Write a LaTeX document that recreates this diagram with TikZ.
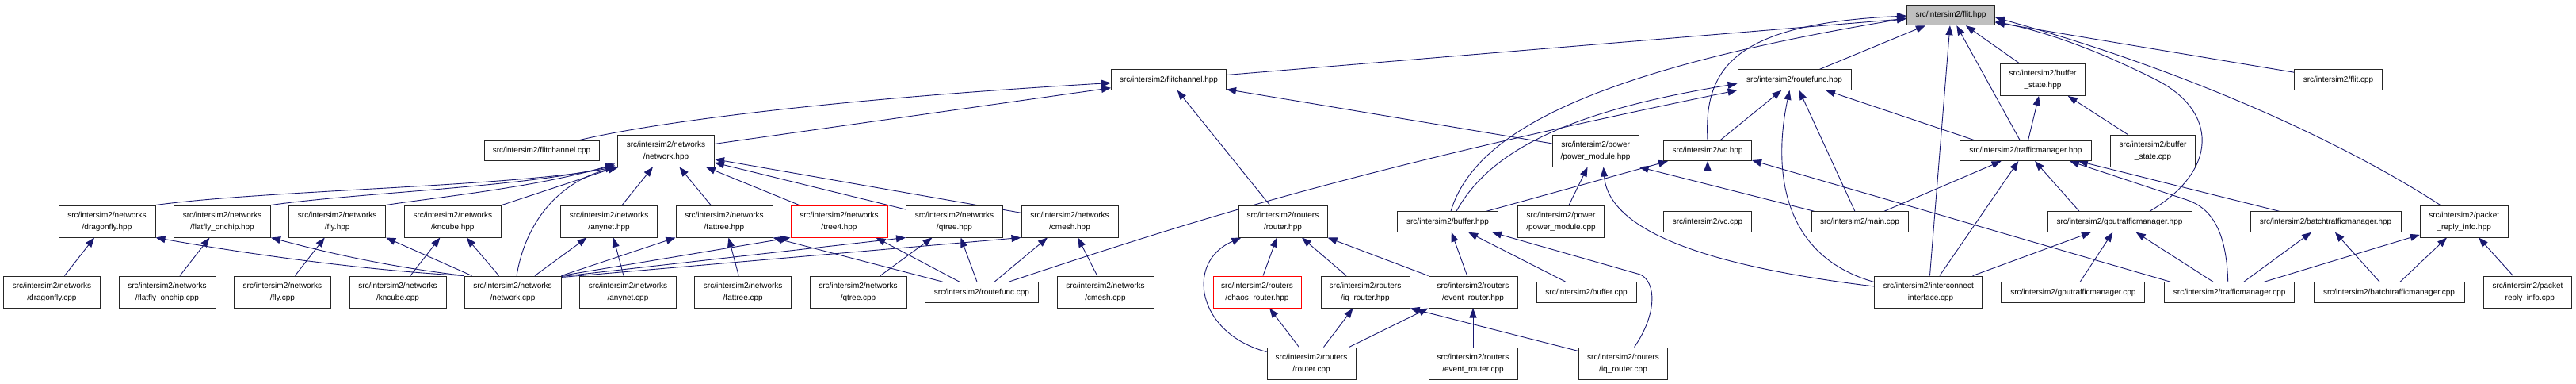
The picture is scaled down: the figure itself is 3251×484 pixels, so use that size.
\documentclass[tikz,border=0pt]{standalone}
\usepackage{fontspec}
\setmainfont{Liberation Sans}
\usetikzlibrary{arrows.meta,calc}
\definecolor{edgec}{RGB}{25,25,112}
\definecolor{flitfill}{RGB}{191,191,191}
\pgfdeclarelayer{bg}
\pgfsetlayers{bg,main}
\tikzset{
  box/.style={draw=black!85, line width=1pt, fill=white, inner sep=0pt, align=center,
    font=\fontsize{10}{15}\selectfont, text=black},
  boxa/.style={box, minimum height=25.5pt, minimum width=#1pt},
  boxb/.style={box, minimum height=40pt, minimum width=#1pt},
  edg/.style={draw=edgec, line width=0.9pt, -{Triangle[length=12pt,width=9pt]}}
}
\begin{document}
\begin{tikzpicture}[x=1pt,y=-1pt]
\useasboundingbox (0,0) rectangle (3251,484);
% rank 0
\node[boxa=111, fill=flitfill] (flit) at (2462,19) {src/intersim2/flit.hpp};
% rank 1
\node[boxa=145] (fch) at (1475,100.5) {src/intersim2/flitchannel.hpp};
\node[boxa=143] (rfh) at (2264.5,100.5) {src/intersim2/routefunc.hpp};
\node[boxb=107] (bsh) at (2578,100.5) {src/intersim2/buffer\\\_state.hpp};
\node[boxa=111] (flitcpp) at (2951,100.5) {src/intersim2/flit.cpp};
% rank 2
\node[boxa=145] (fcc) at (683.5,189.8) {src/intersim2/flitchannel.cpp};
\node[boxb=122] (neth) at (840.5,190) {src/intersim2/networks\\/network.hpp};
\node[boxb=109] (pwh) at (2013.6,190) {src/intersim2/power\\/power\_module.hpp};
\node[boxa=111] (vch) at (2155,189.8) {src/intersim2/vc.hpp};
\node[boxa=166] (tmh) at (2556.4,189.8) {src/intersim2/trafficmanager.hpp};
\node[boxb=107] (bsc) at (2717,190) {src/intersim2/buffer\\\_state.cpp};
% rank 3
\node[boxb=122] (dfh) at (135,279) {src/intersim2/networks\\/dragonfly.hpp};
\node[boxb=122] (ffh) at (280.5,279) {src/intersim2/networks\\/flatfly\_onchip.hpp};
\node[boxb=122] (flyh) at (425.7,279) {src/intersim2/networks\\/fly.hpp};
\node[boxb=122] (kch) at (571.3,279) {src/intersim2/networks\\/kncube.hpp};
\node[boxb=122] (anh) at (768.6,279) {src/intersim2/networks\\/anynet.hpp};
\node[boxb=122] (fth) at (914,279) {src/intersim2/networks\\/fattree.hpp};
\node[boxb=122, draw=red] (t4h) at (1059,279) {src/intersim2/networks\\/tree4.hpp};
\node[boxb=122] (qth) at (1204.5,279) {src/intersim2/networks\\/qtree.hpp};
\node[boxb=122] (cmh) at (1350,279) {src/intersim2/networks\\/cmesh.hpp};
\node[boxb=112] (rth) at (1619,279) {src/intersim2/routers\\/router.hpp};
\node[boxa=127] (bufh) at (1827,279.5) {src/intersim2/buffer.hpp};
\node[boxb=109] (pwc) at (1970,279) {src/intersim2/power\\/power\_module.cpp};
\node[boxa=111] (vcc) at (2155,279.5) {src/intersim2/vc.cpp};
\node[boxa=122] (mainc) at (2347,279.5) {src/intersim2/main.cpp};
\node[boxa=182] (gtmh) at (2675,279.5) {src/intersim2/gputrafficmanager.hpp};
\node[boxa=190] (btmh) at (2935,279.5) {src/intersim2/batchtrafficmanager.hpp};
\node[boxb=111] (prih) at (3109.7,279) {src/intersim2/packet\\\_reply\_info.hpp};
% rank 4
\node[boxb=122] (dfc) at (65.5,368) {src/intersim2/networks\\/dragonfly.cpp};
\node[boxb=122] (ffc) at (211,368) {src/intersim2/networks\\/flatfly\_onchip.cpp};
\node[boxb=122] (flyc) at (356.4,368) {src/intersim2/networks\\/fly.cpp};
\node[boxb=122] (kcc) at (502,368) {src/intersim2/networks\\/kncube.cpp};
\node[boxb=122] (netc) at (647,368) {src/intersim2/networks\\/network.cpp};
\node[boxb=122] (anc) at (792.5,368) {src/intersim2/networks\\/anynet.cpp};
\node[boxb=122] (ftc) at (937.7,368) {src/intersim2/networks\\/fattree.cpp};
\node[boxb=122] (qtc) at (1083,368) {src/intersim2/networks\\/qtree.cpp};
\node[boxa=143] (rfc) at (1239,368.5) {src/intersim2/routefunc.cpp};
\node[boxb=122] (cmc) at (1395,368) {src/intersim2/networks\\/cmesh.cpp};
\node[boxb=111, draw=red] (chh) at (1586.5,368) {src/intersim2/routers\\/chaos\_router.hpp};
\node[boxb=112] (iqh) at (1723,368) {src/intersim2/routers\\/iq\_router.hpp};
\node[boxb=112] (evh) at (1859,368) {src/intersim2/routers\\/event\_router.hpp};
\node[boxa=126] (bufc) at (2002,368.5) {src/intersim2/buffer.cpp};
\node[boxb=136] (icc) at (2433.8,368) {src/intersim2/interconnect\\\_interface.cpp};
\node[boxa=181] (gtmc) at (2616.4,368.5) {src/intersim2/gputrafficmanager.cpp};
\node[boxa=164] (tmc) at (2813.7,368.5) {src/intersim2/trafficmanager.cpp};
\node[boxa=190] (btmc) at (3015,368.5) {src/intersim2/batchtrafficmanager.cpp};
\node[boxb=111] (pric) at (3190,368) {src/intersim2/packet\\\_reply\_info.cpp};
% rank 5
\node[boxb=112] (rtc) at (1655,458) {src/intersim2/routers\\/router.cpp};
\node[boxb=112] (evc) at (1859,458) {src/intersim2/routers\\/event\_router.cpp};
\node[boxb=112] (iqc) at (2048.5,458) {src/intersim2/routers\\/iq\_router.cpp};

\begin{pgfonlayer}{bg}
% into flit.hpp
\draw[edg] (fch) -- (flit);
\draw[edg] (rfh) -- (flit);
\draw[edg] (icc) -- (flit);
\draw[edg] (tmh) -- (flit);
\draw[edg] (bsh) -- (flit);
\draw[edg] (flitcpp) -- (flit);
\draw[edg] ($(prih.north)+(-30,0)$) .. controls (2990,200) and (2800,100) .. ($(flit.east)+(0,3)$);
\draw[edg] ($(gtmh.north)+(38,0)$) .. controls (2800,215) and (2800,140) .. (2720,100) .. controls (2640,60) and (2580,40) .. ($(flit.east)+(0,8)$);
\draw[edg] ($(bufh.north)+(4,0)$) .. controls (1860,170) and (2000,90) .. ($(flit.west)+(0,4)$);
\draw[edg] (vch.north) .. controls (2150,85) and (2190,30) .. ($(flit.west)+(0,1)$);
% into flitchannel.hpp
\draw[edg] (pwh) -- (fch);
\draw[edg] (rth) -- (fch);
\draw[edg] (neth) -- (fch);
\draw[edg] ($(fcc.north)+(48,0)$) .. controls (800,160) and (1000,128) .. ($(fch.west)+(0,4)$);
% into network.hpp
\draw[edg] (cmh) -- (neth);
\draw[edg] (qth) -- (neth);
\draw[edg] (t4h) -- (neth);
\draw[edg] (fth) -- (neth);
\draw[edg] (anh) -- (neth);
\draw[edg] (kch) -- (neth);
\draw[edg] ($(netc.north)+(5,0)$) .. controls (665,270) and (715,225) .. ($(neth.south west)+(2,0)$);
\draw[edg] (dfh.north east) .. controls (330,240) and (650,235) .. ($(neth.south west)+(-3,0)$);
\draw[edg] (ffh.north east) .. controls (450,243) and (660,236) .. ($(neth.south west)+(-3,-2)$);
\draw[edg] (flyh.north east) .. controls (540,250) and (680,236) .. ($(neth.south west)+(-3,-4)$);
% network.cpp and the network headers
\draw[edg] (netc.north west) .. controls (450,340) and (300,318) .. (dfh.south east);
\draw[edg] (netc.north west) .. controls (480,335) and (400,315) .. (ffh.south east);
\draw[edg] ($(netc.north west)+(10,0)$) -- (flyh.south east);
\draw[edg] (netc) -- (kch);
\draw[edg] (kcc) -- (kch);
\draw[edg] (dfc) -- (dfh);
\draw[edg] (ffc) -- (ffh);
\draw[edg] (flyc) -- (flyh);
\draw[edg] (netc) -- (anh);
\draw[edg] (anc) -- (anh);
\draw[edg] (netc.north east) -- (fth.south west);
\draw[edg] (ftc) -- (fth);
\draw[edg] (netc.north east) -- (t4h.south west);
\draw[edg] ($(netc.north east)+(0,1)$) -- (qth.south west);
\draw[edg] ($(netc.north east)+(0,2)$) -- (cmh.south west);
\draw[edg] (qtc) -- (qth);
\draw[edg] (cmc) -- (cmh);
% routefunc.cpp
\draw[edg] ($(rfc.north west)+(23,0)$) -- (fth.south east);
\draw[edg] ($(rfc.north west)+(44,0)$) -- ($(t4h.south east)+(-15,0)$);
\draw[edg] ($(rfc.north)+(-6,0)$) -- ($(qth.south)+(8,0)$);
\draw[edg] ($(rfc.north)+(16,0)$) -- ($(cmh.south)+(-28,0)$);
\draw[edg] ($(rfc.north east)+(-38,0)$) .. controls (1500,280) and (1700,215) .. (rfh.south west);
% routers
\draw[edg] ($(rtc.north west)+(0,6)$) .. controls (1510,420) and (1495,330) .. ($(rth.south west)+(4,0)$);
\draw[edg] (chh) -- (rth);
\draw[edg] (iqh) -- (rth);
\draw[edg] (evh.north west) -- (rth.south east);
\draw[edg] (rtc) -- (chh);
\draw[edg] (rtc) -- (iqh);
\draw[edg] ($(rtc.north east)+(-9,0)$) -- (evh.south west);
\draw[edg] (evc) -- (evh);
\draw[edg] ($(iqc.north west)+(0,5)$) -- (iqh.south east);
\draw[edg] (evh) -- (bufh);
\draw[edg] (bufc) -- (bufh);
\draw[edg] ($(iqc.north)+(14,0)$) .. controls (2092,395) and (2090,355) .. (2070,346) -- ($(bufh.south east)+(-8,0)$);
% buffer, vc, power, main
\draw[edg] ($(bufh.north east)+(-15,0)$) -- ($(vch.south west)+(6,0)$);
\draw[edg] ($(bufh.north)+(11,0)$) .. controls (1880,190) and (1980,140) .. ($(rfh.west)+(0,5)$);
\draw[edg] (pwc) -- (pwh);
\draw[edg] (vcc) -- (vch);
\draw[edg] ($(mainc.north west)+(4,0)$) -- (pwh.south east);
\draw[edg] ($(icc.west)+(0,-7)$) .. controls (2150,335) and (2030,290) .. ($(pwh.south)+(10,0)$);
\draw[edg] ($(tmc.north west)+(8,0)$) -- ($(vch.south east)+(0,-1)$);
\draw[edg] (vch) -- (rfh);
\draw[edg] (mainc) -- (rfh);
\draw[edg] ($(icc.north west)+(0,8)$) .. controls (2240,320) and (2240,200) .. ($(rfh.south)+(-6,0)$);
\draw[edg] ($(tmh.north)+(-65,0)$) -- (rfh);
% traffic managers
\draw[edg] (mainc) -- (tmh);
\draw[edg] (icc) -- (tmh);
\draw[edg] ($(gtmh.north)+(-51,0)$) -- (tmh);
\draw[edg] ($(btmh.north west)+(37,0)$) -- ($(tmh.south east)+(-17,0)$);
\draw[edg] ($(tmc.north)+(-2,0)$) .. controls (2810,290) and (2790,262) .. (2760,252) -- ($(tmh.south east)+(-28,0)$);
\draw[edg] (tmh) -- (bsh);
\draw[edg] (bsc) -- (bsh);
\draw[edg] (icc) -- (gtmh);
\draw[edg] (gtmc) -- (gtmh);
\draw[edg] (tmc) -- (gtmh);
\draw[edg] (tmc) -- (btmh);
\draw[edg] (tmc) -- (prih);
\draw[edg] (btmc) -- (btmh);
\draw[edg] (btmc) -- (prih);
\draw[edg] (pric) -- (prih);
\end{pgfonlayer}
\end{tikzpicture}
\end{document}
